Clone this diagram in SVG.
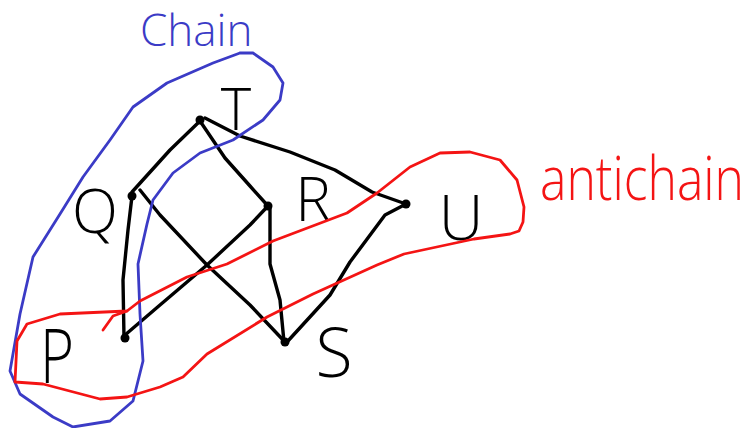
<svg xmlns="http://www.w3.org/2000/svg" width="754" height="428" viewBox="0 0 754 428">
<style>
.edge{fill:none;stroke:#000;stroke-width:3.4;stroke-linecap:round;stroke-linejoin:round}
.dot{fill:#000}
.lbl{font-family:"Open Sans","Liberation Sans",sans-serif;font-weight:300;fill:#000;text-anchor:middle}
.chain{fill:none;stroke:#3b3bc6;stroke-width:2.8;stroke-linecap:round;stroke-linejoin:round}
.anti{fill:none;stroke:#f41414;stroke-width:2.8;stroke-linecap:round;stroke-linejoin:round}
</style>
<rect width="754" height="428" fill="#fff"/>
<g id="connectors">
<polyline class="edge" points="200,121 170,150 132,192"/>
<polyline class="edge" points="200,121 225,158 250,186 268,206"/>
<polyline class="edge" points="205,118 240,136 290,152 335,170 372,192 406,204"/>
<polyline class="edge" points="132,196 128,230 123,280 124,338"/>
<polyline class="edge" points="140,190 160,215 207,265 250,305 285,342"/>
<polyline class="edge" points="268,206 250,225 207,265 160,305 125,335"/>
<polyline class="edge" points="270,206 270,264 280,300 284,342"/>
<polyline class="edge" points="406,204 385,215 350,262 330,295 287,342"/>
</g>
<g id="node-T"><circle class="dot" cx="200" cy="120" r="4.5"/><text class="lbl" x="236" y="130" font-size="58">T</text></g>
<g id="node-Q"><circle class="dot" cx="132" cy="196" r="4.5"/><text class="lbl" x="95" y="233" font-size="60">Q</text></g>
<g id="node-R"><circle class="dot" cx="268" cy="206" r="4.5"/><text class="lbl" x="313" y="221" font-size="60">R</text></g>
<g id="node-U"><circle class="dot" cx="406" cy="204" r="4.5"/><text class="lbl" x="461" y="240" font-size="62">U</text></g>
<g id="node-P"><circle class="dot" cx="125" cy="338" r="4.5"/><text class="lbl" x="57" y="383" font-size="76" textLength="34" lengthAdjust="spacingAndGlyphs">P</text></g>
<g id="node-S"><circle class="dot" cx="285" cy="342" r="4.5"/><text class="lbl" x="334" y="377" font-size="68">S</text></g>
<g id="chain">
<polyline class="chain" points="240,53 213,63 167,83 133,107 110,140 83,177 60,214 33,257 20,314 10,371 20,394 53,417 73,427 110,421 133,401 143,361 140,314 138,264 147,224 153,200 173,173 200,153 233,140 263,120 280,100 283,83 273,67 253,53 240,53"/>
<text x="140" y="46" font-family="Open Sans, Liberation Sans, sans-serif" font-weight="300" font-size="44" fill="#3b3bc6">Chain</text>
</g>
<g id="antichain">
<polyline class="anti" points="103,330 113,316 127,311"/>
<polyline class="anti" points="127,311 140,301 187,277 227,264 273,241 347,213 377,193 410,167 440,153 470,152 500,160 517,180 524,207 523,222 519,231 510,234 474,239 404,254 377,265 313,294 267,317 207,354 183,377 160,387 127,397 100,399 43,384 15,382 17,341 27,324 60,314 127,311"/>
<text transform="translate(540,200) scale(1,1.25)" font-family="Open Sans, Liberation Sans, sans-serif" font-weight="300" font-size="48" fill="#f41414" textLength="204" lengthAdjust="spacingAndGlyphs">antichain</text>
</g>
</svg>
